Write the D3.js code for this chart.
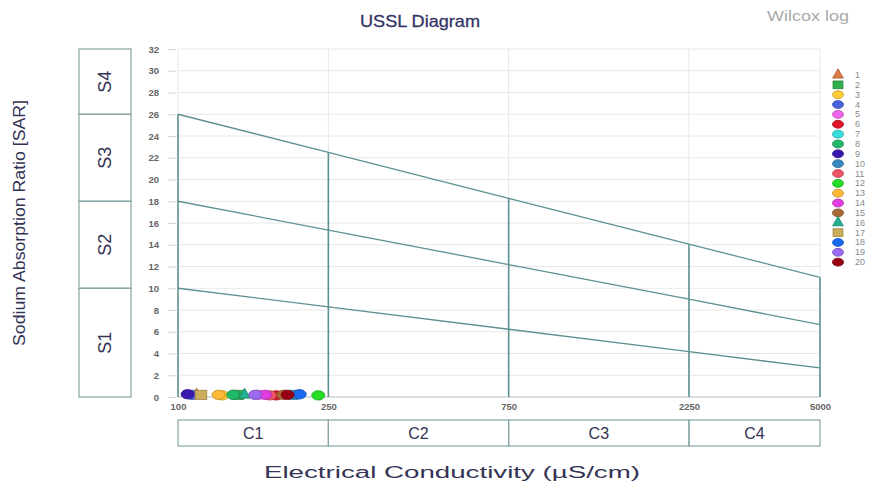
<!DOCTYPE html>
<html><head><meta charset="utf-8">
<script src="https://cdn.jsdelivr.net/npm/d3@7"></script>
<style>body{margin:0;background:#fff}svg{display:block;font-family:"Liberation Sans",Arial,sans-serif}</style>
</head><body><svg id="c" width="887" height="484"></svg>
<script>
// ---- data ----
const ecTicks = [100, 250, 750, 2250, 5000];
const sarTicks = d3.range(0, 33, 2);
const sarLine1 = [10, 8.28, 6.23, 4.17, 2.67];
const sarLine2 = [18, 15.35, 12.18, 9.0, 6.65];
const sarLine3 = [26, 22.5, 18.27, 14.06, 11.0];
const sClasses = ["S1", "S2", "S3", "S4"];
const sBounds = [0, 10, 18, 26, 32];
const cClasses = ["C1", "C2", "C3", "C4"];
const cBounds = [100, 250, 750, 2250, 5000];
const sampleNames = ["1","2","3","4","5","6","7","8","9","10","11","12","13","14","15","16","17","18","19","20"];
const sampleEC  = [112, 144, 131, 109, 163, 182, 200, 140, 106, 205, 175, 235, 128, 170, 190, 150, 115, 210, 160, 195];
const sampleSAR = [0.2, 0.2, 0.15, 0.2, 0.2, 0.15, 0.2, 0.2, 0.25, 0.2, 0.15, 0.15, 0.2, 0.2, 0.2, 0.2, 0.2, 0.25, 0.2, 0.2];
const sampleShape = ["triangle","square","circle","circle","circle","circle","circle","circle","circle","circle","circle","circle","circle","circle","circle","triangle","square","circle","circle","circle"];
const sampleColor = ["#e07b45","#2fb04a","#ffcc33","#4a62de","#ee66ee","#dd1526","#38dcdc","#22b86a","#3a18b0","#3a88c0","#ee5566","#26dd26","#ffb936","#e03ce0","#aa6a38","#22b08e","#ccae5a","#1a6af0","#9a6af0","#990014"];

// ---- layout ----
const svg = d3.select("#c");
const L = 178, R = 820, T = 49, B = 397;
const x = d3.scaleLog().domain([100, 5000]).range([L, R]);
const y = d3.scaleLinear().domain([0, 32]).range([B, T]);
const dark = "#5e9191", grid = "#e6e9e9", boxStroke = "#86a6a6";

// grid
svg.append("g").selectAll("line").data(sarTicks).join("line")
  .attr("x1", L).attr("x2", R).attr("y1", d => y(d)).attr("y2", d => y(d))
  .attr("stroke", grid).attr("stroke-width", 1);
svg.append("g").selectAll("line").data(ecTicks).join("line")
  .attr("x1", d => x(d)).attr("x2", d => x(d)).attr("y1", T).attr("y2", B)
  .attr("stroke", grid).attr("stroke-width", 1);

// y axis ticks
const yAxis = d3.axisLeft(y).tickValues(sarTicks).tickSize(8).tickPadding(9);
const gy = svg.append("g").attr("transform", `translate(${L - 2},0)`).call(yAxis);
gy.select(".domain").remove();
gy.selectAll(".tick line").attr("stroke", "#cfd6d6");
gy.selectAll(".tick text").attr("fill", "#666").attr("font-size", 9.5).attr("font-weight", "bold")
  .attr("font-family", "Liberation Sans, Arial, sans-serif");

// x axis labels
const xAxis = d3.axisBottom(x).tickValues(ecTicks).tickFormat(d3.format("d")).tickSize(0).tickPadding(6);
const gx = svg.append("g").attr("transform", `translate(0,${B})`).call(xAxis);
gx.select(".domain").remove();
gx.selectAll(".tick text").attr("fill", "#666").attr("font-size", 9.5).attr("font-weight", "bold")
  .attr("font-family", "Liberation Sans, Arial, sans-serif");

// bottom border
svg.append("line").attr("x1", L).attr("x2", R).attr("y1", B).attr("y2", B).attr("stroke", "#bcc9c9");

// classification lines
const lineGen = d3.line().x((d, i) => x(ecTicks[i])).y(d => y(d));
[sarLine1, sarLine2, sarLine3].forEach(arr => {
  svg.append("path").attr("d", lineGen(arr)).attr("fill", "none").attr("stroke", dark).attr("stroke-width", 1.3);
});
svg.append("g").selectAll("line").data(ecTicks).join("line")
  .attr("x1", d => x(d)).attr("x2", d => x(d)).attr("y1", B).attr("y2", (d, i) => y(sarLine3[i]))
  .attr("stroke", dark).attr("stroke-width", 1.6);

// S boxes
const sx0 = 79, sx1 = 131;
const sg = svg.append("g");
sClasses.forEach((s, i) => {
  const y0 = y(sBounds[i + 1]), y1 = y(sBounds[i]);
  sg.append("rect").attr("x", sx0).attr("y", y0).attr("width", sx1 - sx0).attr("height", y1 - y0)
    .attr("fill", "none").attr("stroke", boxStroke).attr("stroke-width", 1.2);
  const cy = (y0 + y1) / 2;
  sg.append("text").attr("transform", `translate(${(sx0 + sx1) / 2 + 6},${cy}) rotate(-90)`)
    .attr("text-anchor", "middle").attr("font-size", 18).attr("fill", "#333355").text(s);
});

// C boxes
const cy0 = 420, cy1 = 446;
const cg = svg.append("g");
cClasses.forEach((c, i) => {
  const x0 = x(cBounds[i]), x1 = x(cBounds[i + 1]);
  cg.append("rect").attr("x", x0).attr("y", cy0).attr("width", x1 - x0).attr("height", cy1 - cy0)
    .attr("fill", "none").attr("stroke", boxStroke).attr("stroke-width", 1.2);
  cg.append("text").attr("x", (x0 + x1) / 2).attr("y", cy0 + 19).attr("text-anchor", "middle")
    .attr("font-size", 16).attr("fill", "#333355").text(c);
});

// symbols
function drawSym(g, shape, cx, cy, col, sz) {
  const stroke = d3.color(col).darker(0.8);
  if (shape === "triangle") {
    g.append("path").attr("d", d3.symbol(d3.symbolTriangle, sz * 9)())
      .attr("transform", `translate(${cx},${cy})`).attr("fill", col).attr("stroke", stroke).attr("stroke-width", 0.8);
  } else if (shape === "square") {
    g.append("rect").attr("x", cx - sz * 0.9).attr("y", cy - sz * 0.7).attr("width", sz * 1.8).attr("height", sz * 1.4)
      .attr("fill", col).attr("stroke", stroke).attr("stroke-width", 0.8);
  } else {
    g.append("ellipse").attr("cx", cx).attr("cy", cy).attr("rx", sz).attr("ry", sz * 0.72)
      .attr("fill", col).attr("stroke", stroke).attr("stroke-width", 0.8);
  }
}

// points
const pg = svg.append("g");
sampleEC.forEach((ec, i) => drawSym(pg, sampleShape[i], x(ec), y(sampleSAR[i]), sampleColor[i], 6.5));

// legend
const lg = svg.append("g");
sampleNames.forEach((n, i) => {
  const ly = 75 + i * 9.85;
  drawSym(lg, sampleShape[i], 838, ly, sampleColor[i], 5.5);
  lg.append("text").attr("x", 855).attr("y", ly + 3).attr("font-size", 9).attr("fill", "#8a8a8a").text(n);
});

// titles
svg.append("text").attr("x", 420).attr("y", 27).attr("text-anchor", "middle").attr("font-size", 17)
  .attr("fill", "#333366").attr("stroke", "#333366").attr("stroke-width", 0.3)
  .attr("textLength", 120).attr("lengthAdjust", "spacingAndGlyphs").text("USSL Diagram");
svg.append("text").attr("x", 808).attr("y", 21).attr("text-anchor", "middle").attr("font-size", 14)
  .attr("fill", "#aaaaaa").attr("textLength", 82).attr("lengthAdjust", "spacingAndGlyphs").text("Wilcox log");
svg.append("text").attr("x", 452).attr("y", 478).attr("text-anchor", "middle").attr("font-size", 16)
  .attr("fill", "#333355").attr("textLength", 376).attr("lengthAdjust", "spacingAndGlyphs").text("Electrical Conductivity (µS/cm)");
svg.append("text").attr("transform", `translate(25,223) rotate(-90)`).attr("text-anchor", "middle").attr("font-size", 16)
  .attr("fill", "#333355").attr("textLength", 246).attr("lengthAdjust", "spacingAndGlyphs").text("Sodium Absorption Ratio [SAR]");
</script></body></html>
